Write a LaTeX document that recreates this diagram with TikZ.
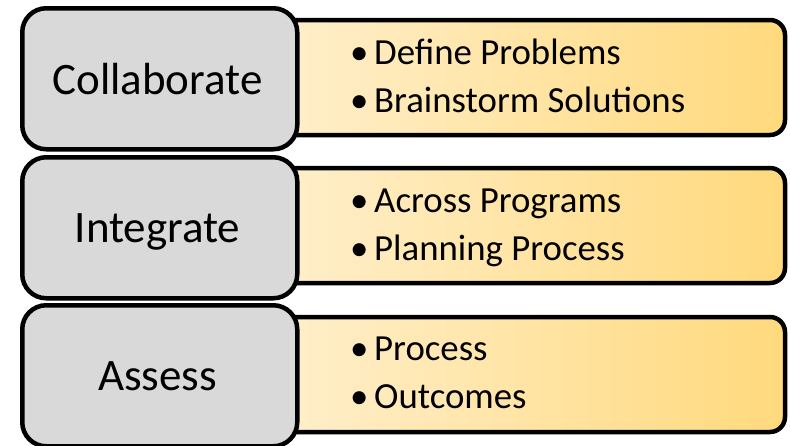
\documentclass[tikz,border=0pt]{standalone}
\usepackage{fontspec}
\setmainfont{Carlito}
\definecolor{grayfill}{HTML}{D9D9D9}
\definecolor{yelL}{HTML}{FFF2D8}
\definecolor{yelR}{HTML}{FFD97C}
\newcommand{\bul}{\makebox[24pt][l]{\raisebox{0pt}{•}}}
\begin{document}
\begin{tikzpicture}[x=1pt,y=-1pt,
  graybox/.style={draw=black,line width=4.5pt,fill=grayfill,rounded corners=24pt},
  yelbox/.style={draw=black,line width=4.5pt,left color=yelL,right color=yelR,rounded corners=15pt},
  mainlbl/.style={font=\fontsize{45}{54}\selectfont,anchor=base,inner sep=0pt},
  bullets/.style={font=\fontsize{36.8}{48}\selectfont,anchor=base west,align=left,inner sep=0pt}]
\useasboundingbox (0,0) rectangle (790,445);
% yellow boxes
\draw[yelbox] (200,20) rectangle (785,135);
\draw[yelbox] (200,168) rectangle (785,283);
\draw[yelbox] (200,317) rectangle (785,432);
% gray boxes
\node[graybox,minimum width=275pt,minimum height=141pt,anchor=north west] (g1) at (20,6) {};
\node[graybox,minimum width=275pt,minimum height=141pt,anchor=north west] (g2) at (20,155) {};
\node[graybox,minimum width=275pt,minimum height=141pt,anchor=north west] (g3) at (20,303) {};
\node[mainlbl] (t1) at (157.5,94) {Collaborate};
\node[mainlbl] (t2) at (157.5,242) {Integrate};
\node[mainlbl] (t3) at (157.5,390) {Assess};
% bullet texts
\node[bullets] (b1) at (350,112) {\bul Define Problems\\\bul Brainstorm Solutions};
\node[bullets] (b2) at (350,260) {\bul Across Programs\\\bul Planning Process};
\node[bullets] (b3) at (350,408) {\bul Process\\\bul Outcomes};
\end{tikzpicture}
\end{document}
